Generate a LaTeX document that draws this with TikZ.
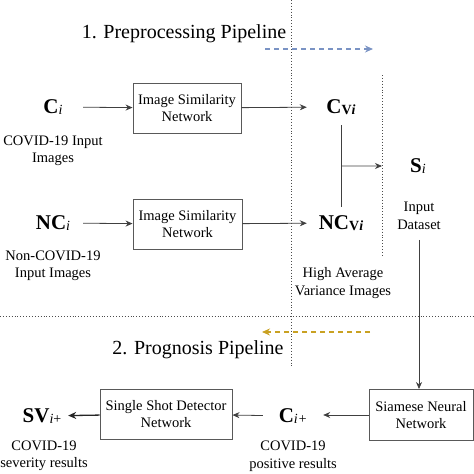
\documentclass[tikz,border=0pt]{standalone}
\usepackage{fontspec}
\setmainfont{Liberation Serif}
\usetikzlibrary{arrows.meta,calc}
\newcommand\lowsub[1]{\raisebox{-0.35ex}{\fontsize{14}{14}\selectfont #1}}
\newcommand\bigsym[1]{{\fontsize{21}{21}\selectfont\bfseries #1}}
\definecolor{pblue}{HTML}{7A93C4}
\definecolor{pgold}{HTML}{C9A122}
\tikzset{
  netbox/.style={draw=black!65, line width=0.9pt, inner sep=0pt, align=center,
    font=\fontsize{14.5}{17.5}\selectfont},
  lbl/.style={align=center, inner sep=0pt, font=\fontsize{14.5}{17.5}\selectfont},
  sym/.style={inner sep=0pt, minimum height=30pt},
  arr/.style={-{Stealth[length=7pt,width=6pt]}, draw=black!75, line width=0.8pt},
  thickarr/.style={-{Stealth[length=8pt,width=7pt]}, draw=black!85, line width=1.3pt},
  sep/.style={draw=black!70, dotted, line width=0.9pt},
  flow/.style={dashed, line width=1.2pt, dash pattern=on 5pt off 4pt},
  title/.style={inner sep=0pt, font=\fontsize{20}{24}\selectfont}
}
\begin{document}
\begin{tikzpicture}[x=1pt,y=-1pt]
\useasboundingbox (0,0) rectangle (474,474);
% separators
\coordinate (vt) at (291,0);
\coordinate (vb) at (291,367);
\coordinate (v2t) at (382,75);
\coordinate (v2b) at (382,257);
\coordinate (hl) at (0,316);
\coordinate (hr) at (474,316);
\draw[sep] (vt) -- (vb);
\draw[sep] (v2t) -- (v2b);
\draw[sep] (hl) -- (hr);
% titles and flow arrows
\node[title] (t1) at (184,34) {1. Preprocessing Pipeline};
\node[title] (t2) at (198,350) {2. Prognosis Pipeline};
\coordinate (b1) at (265,49);
\coordinate (b2) at (373,49);
\draw[flow, draw=pblue, -{Stealth[length=8pt,width=7pt]}, pblue] (b1) -- (b2);
\coordinate (o1) at (370,332);
\coordinate (o2) at (262,332);
\draw[flow, draw=pgold, -{Stealth[length=8pt,width=7pt]}, pgold] (o1) -- (o2);
% top row
\node[sym, minimum width=60pt] (Ci) at (53,107) {\bigsym{C}\lowsub{\itshape i}};
\node[netbox, minimum width=108pt, minimum height=50pt] (box1) at (187,108) {Image Similarity\\Network};
\node[sym, minimum width=68pt, minimum height=36pt] (CVi) at (341,107) {\bigsym{C}\lowsub{\bfseries V\itshape i}};
\node[lbl] (lCi) at (53,151) {COVID-19 Input\\Images};
% second row
\node[sym, minimum width=60pt] (NCi) at (53,223) {\bigsym{NC}\lowsub{\itshape i}};
\node[netbox, minimum width=109pt, minimum height=50pt] (box2) at (187.5,224) {Image Similarity\\Network};
\node[sym, minimum width=68pt, minimum height=32pt] (NCVi) at (341,223) {\bigsym{NC}\lowsub{\bfseries V\itshape i}};
\node[lbl] (lNCi) at (53,266) {Non-COVID-19\\Input Images};
\node[lbl] (lhv) at (343,283) {High Average\\Variance Images};
% dataset
\node[sym] (Si) at (418,166) {\bigsym{S}\lowsub{\itshape i}};
\node[lbl, inner ysep=10pt] (ds) at (419,216) {Input\\Dataset};
% bottom row
\node[netbox, minimum width=104pt, minimum height=51pt] (siam) at (421,415) {Siamese Neural\\Network};
\node[sym, minimum width=60pt] (Cip) at (293,416) {\bigsym{C}\lowsub{\itshape i+}};
\node[netbox, minimum width=132pt, minimum height=50pt] (ssd) at (166,414) {Single Shot Detector\\Network};
\node[sym, minimum width=52pt] (SVi) at (42,416) {\bigsym{SV}\lowsub{\itshape i\upshape+}};
\node[lbl] (lCip) at (293,456) {COVID-19\\positive results};
\node[lbl] (lSVi) at (44,456) {COVID-19\\severity results};
% connectors
\draw[arr] (Ci) -- (box1);
\draw[arr] (box1) -- (CVi);
\draw[arr] (NCi) -- (box2);
\draw[arr] (box2) -- (NCVi);
\draw[draw=black!75, line width=0.8pt] (CVi.south) -- (NCVi.north);
\coordinate (jn) at ($(CVi.south)!0.5!(NCVi.north)$);
\coordinate (jin) at (382,166);
\draw[arr] (jn) -- (jin);
\draw[arr] (ds.south) -- (siam.north -| ds.south);
\draw[arr] (siam.west) -- (Cip.east |- siam.west);
\draw[arr] (Cip) -- (ssd);
\draw[thickarr] (ssd) -- (SVi);
\end{tikzpicture}
\end{document}
